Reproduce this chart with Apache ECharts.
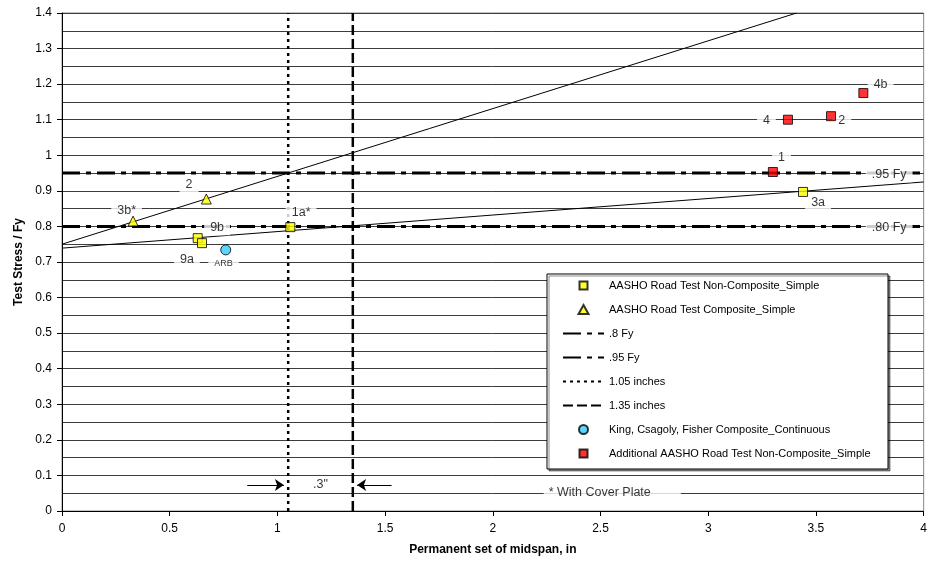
<!DOCTYPE html>
<html><head><meta charset="utf-8">
<script src="https://cdn.jsdelivr.net/npm/echarts@6/dist/echarts.min.js"></script>
<style>html,body{margin:0;padding:0;background:#fff}#c{width:930px;height:567px}</style>
</head><body><div id="c"></div>
<script>
// ---- data ----
const nonCompositeSimple = [[0.63,0.767],[0.65,0.753],[1.06,0.798],[3.44,0.897]];
const compositeSimple = [[0.33,0.815],[0.67,0.877]];
const kingCsagolyFisher = [[0.76,0.734]];
const additionalNonComposite = [[3.30,0.953],[3.37,1.100],[3.57,1.110],[3.72,1.175]];
const fy80 = [[0,0.80],[4,0.80]];
const fy95 = [[0,0.95],[4,0.95]];
const set105 = [[1.05,0],[1.05,1.4]];
const set135 = [[1.35,0],[1.35,1.4]];
const trendComposite = [[0,0.750],[3.41,1.4]];
const trendNonComposite = [[0,0.739],[4,0.925]];
const labelTexts = ['2','3b*','9b','1a*','9a','ARB','4b','4','2','1','.95 Fy','3a','.80 Fy','.3"','* With Cover Plate'];
const labelX = [0.59,0.30,0.72,1.11,0.58,0.75,3.80,3.27,3.62,3.34,3.84,3.51,3.84,1.20,2.236];
const labelY = [0.917,0.846,0.796,0.838,0.708,0.697,1.200,1.099,1.099,0.995,0.945,0.866,0.798,0.073,0.053];
const arrowFrom = [[0.86,0.073],[1.53,0.073]];
const arrowTo = [[1.03,0.073],[1.37,0.073]];
const legendNames = ['AASHO Road Test Non-Composite_Simple','AASHO Road Test Composite_Simple','.8 Fy','.95 Fy','1.05 inches','1.35 inches','King, Csagoly, Fisher Composite_Continuous','Additional AASHO Road Test Non-Composite_Simple'];

const FONT = 'Liberation Sans, Arial, sans-serif';
const chart = echarts.init(document.getElementById('c'));

const labelData = labelTexts.map((t, i) => {
  const d = { name: t, value: [labelX[i], labelY[i]] };
  if (t === 'ARB') d.label = { fontSize: 9 };
  if (t === '* With Cover Plate') d.label = { align: 'left', padding: [1, 30, 1, 5] };
  return d;
});

// legend icons: small marker centred in a 41 x 10 box (leading moves widen the bounds)
const markerIcons = {
  0: 'path://M0 0M41 10M16.5 0.5H24.5V8.5H16.5Z',
  1: 'path://M0 0M41 10M20.5 0L25.5 9L15.5 9Z',
  6: 'path://M0 0M41 10M25 4.5A4.5 4.5 0 1 1 16 4.5A4.5 4.5 0 1 1 25 4.5Z',
  7: 'path://M0 0M41 10M16.5 0.5H24.5V8.5H16.5Z'
};
const legends = legendNames.map((n, i) => {
  const center = 286 + 24 * i;
  const isMarker = markerIcons[i] !== undefined;
  const h = isMarker ? 10 : 12;
  const lg = {
    data: [isMarker ? { name: n, icon: markerIcons[i] } : { name: n }],
    orient: 'vertical', left: 562, top: center - 6,
    itemWidth: 41, itemHeight: h, selectedMode: false, padding: 0,
    textStyle: { fontFamily: FONT, fontSize: 11, color: '#000' }
  };
  if (!isMarker) lg.itemStyle = { opacity: 0, color: 'rgba(0,0,0,0)', borderWidth: 0 };
  return lg;
});

const dashFy = [18, 6, 5, 6];
const option = {
  animation: false,
  backgroundColor: '#fff',
  grid: { left: 62, right: 5, top: 13, bottom: 56, show: true, borderColor: '#888', borderWidth: 1, backgroundColor: 'transparent' },
  legend: legends,
  graphic: [{
    type: 'rect', z: 3, shape: { x: 547, y: 274, width: 341, height: 195 },
    style: { fill: '#fff', stroke: '#000', lineWidth: 1, shadowColor: 'rgba(0,0,0,0.45)', shadowOffsetX: 2, shadowOffsetY: 2, shadowBlur: 0 }
  }],
  xAxis: {
    type: 'value', min: 0, max: 4, interval: 0.5,
    name: 'Permanent set of midspan, in', nameLocation: 'middle', nameGap: 33,
    nameTextStyle: { fontFamily: FONT, fontSize: 12, fontWeight: 'bold', color: '#000' },
    axisLine: { show: true, onZero: false, lineStyle: { color: '#000', width: 1 } },
    axisTick: { show: true, length: 5, lineStyle: { color: '#000' } },
    axisLabel: { fontFamily: FONT, fontSize: 12, color: '#000', margin: 12 },
    splitLine: { show: false }
  },
  yAxis: {
    type: 'value', min: 0, max: 1.4, interval: 0.1,
    name: 'Test Stress / Fy', nameLocation: 'middle', nameGap: 37, nameRotate: 90,
    nameTextStyle: { fontFamily: FONT, fontSize: 12, fontWeight: 'bold', color: '#000' },
    axisLine: { show: true, onZero: false, lineStyle: { color: '#000', width: 1 } },
    axisTick: { show: true, length: 5, lineStyle: { color: '#000' } },
    axisLabel: { fontFamily: FONT, fontSize: 12, color: '#000', margin: 10 },
    splitLine: { show: true, lineStyle: { color: '#3c3c3c', width: 1 } },
    minorTick: { show: false, splitNumber: 2 },
    minorSplitLine: { show: true, lineStyle: { color: '#3c3c3c', width: 1 } }
  },
  series: [
    { type: 'line', name: 'trendComposite', data: trendComposite, symbol: 'none', z: 2, lineStyle: { color: '#000', width: 1 } },
    { type: 'line', name: 'trendNonComposite', data: trendNonComposite, symbol: 'none', z: 2, lineStyle: { color: '#000', width: 1 } },
    { type: 'line', name: '.8 Fy', data: fy80, symbol: 'none', z: 2, lineStyle: { color: '#000', width: 3, type: dashFy }, itemStyle: { color: '#000' } },
    { type: 'line', name: '.95 Fy', data: fy95, symbol: 'none', z: 2, lineStyle: { color: '#000', width: 3, type: dashFy }, itemStyle: { color: '#000' } },
    { type: 'line', name: '1.05 inches', data: set105, symbol: 'none', z: 2, lineStyle: { color: '#000', width: 2.5, type: [3, 4] }, itemStyle: { color: '#000' } },
    { type: 'line', name: '1.35 inches', data: set135, symbol: 'none', z: 2, lineStyle: { color: '#000', width: 2.5, type: [10, 4] }, itemStyle: { color: '#000' } },
    { type: 'lines', coordinateSystem: 'cartesian2d', z: 2, symbol: ['none', 'arrow'], symbolSize: 9,
      lineStyle: { color: '#000', width: 1, opacity: 1 },
      data: arrowFrom.map((p, i) => ({ coords: [p, arrowTo[i]] })) },
    { type: 'scatter', name: 'labels', data: labelData, symbolSize: 1, z: 3,
      itemStyle: { color: 'rgba(0,0,0,0)' },
      label: { show: true, position: 'inside', formatter: '{b}', fontFamily: FONT, fontSize: 12.5, color: '#000', backgroundColor: '#fff', padding: [1, 6] } },
    { type: 'scatter', name: legendNames[0], data: nonCompositeSimple, symbol: 'rect', symbolSize: 9, z: 4,
      itemStyle: { color: '#ffff00', borderColor: '#000', borderWidth: 1 } },
    { type: 'scatter', name: legendNames[1], data: compositeSimple, symbol: 'triangle', symbolSize: 10, z: 4,
      itemStyle: { color: '#ffff00', borderColor: '#000', borderWidth: 1 } },
    { type: 'scatter', name: legendNames[6], data: kingCsagolyFisher, symbol: 'circle', symbolSize: 10, z: 4,
      itemStyle: { color: '#33ccff', borderColor: '#000', borderWidth: 1 } },
    { type: 'scatter', name: legendNames[7], data: additionalNonComposite, symbol: 'rect', symbolSize: 9, z: 4,
      itemStyle: { color: '#ff0000', borderColor: '#000', borderWidth: 1 } }
  ]
};
chart.setOption(option);
</script></body></html>
